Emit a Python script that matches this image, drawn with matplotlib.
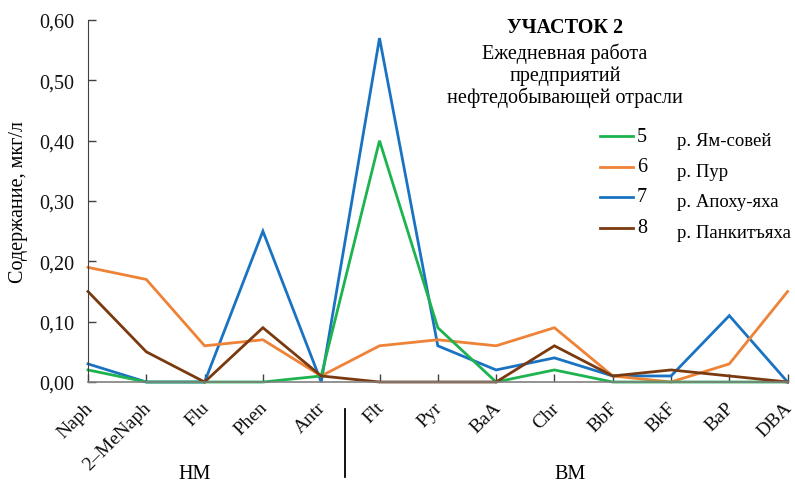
import numpy as np
import matplotlib
matplotlib.use("Agg")
import matplotlib.pyplot as plt
from matplotlib.lines import Line2D
from matplotlib.transforms import ScaledTranslation

plt.rcParams['font.family'] = ['Liberation Serif', 'DejaVu Serif']

# --- data ---
compounds = ['Naph', '2–MeNaph', 'Flu', 'Phen', 'Antr', 'Flt', 'Pyr',
             'BaA', 'Chr', 'BbF', 'BkF', 'BaP', 'DBA']
yam_sovey = [0.02, 0.00, 0.00, 0.00, 0.01, 0.40, 0.09, 0.00, 0.02, 0.00, 0.00, 0.00, 0.00]
pur = [0.19, 0.17, 0.06, 0.07, 0.01, 0.06, 0.07, 0.06, 0.09, 0.01, 0.00, 0.03, 0.15]
apokhu_yakha = [0.03, 0.00, 0.00, 0.25, 0.00, 0.57, 0.06, 0.02, 0.04, 0.01, 0.01, 0.11, 0.00]
pankityakha = [0.15, 0.05, 0.00, 0.09, 0.01, 0.00, 0.00, 0.00, 0.06, 0.01, 0.02, 0.01, 0.00]

series_nums = ['5', '6', '7', '8']
river_names = ['р. Ям-совей', 'р. Пур', 'р. Апоху-яха', 'р. Панкитъяха']
colors = ['#1db34f', '#ee8236', '#1a73c2', '#7a3a10']

yticks = [0.0, 0.1, 0.2, 0.3, 0.4, 0.5, 0.6]

FS = 14.5

fig = plt.figure(figsize=(7.95, 4.85), dpi=100)
ax = fig.add_axes([0.1107, 0.2103, 0.8800, 0.7464])

x = np.arange(len(compounds))
# draw in order so brown sits on top
for vals, c in zip([apokhu_yakha, pur, yam_sovey, pankityakha],
                   [colors[2], colors[1], colors[0], colors[3]]):
    ax.plot(x, vals, color=c, lw=2.0, solid_joinstyle='miter', clip_on=False)

ax.set_xlim(0, len(compounds) - 1)
ax.set_ylim(0, 0.6)
ax.set_yticks(yticks)
ax.set_yticklabels([f"{v:.2f}".replace('.', ',') for v in yticks], fontsize=FS)
ax.set_xticks(x)
ax.set_xticklabels(compounds, rotation=45, ha='right', va='top',
                   rotation_mode='anchor', fontsize=14)
ax.tick_params(axis='both', direction='in', length=6, width=1, colors='#404040',
               labelcolor='#111111')
ax.tick_params(axis='y', pad=10)
ax.tick_params(axis='x', pad=12)
shift = ScaledTranslation(-4 / 100, 0, fig.dpi_scale_trans)
for lbl in ax.get_xticklabels():
    lbl.set_transform(lbl.get_transform() + shift)

for s in ['top', 'right']:
    ax.spines[s].set_visible(False)
ax.spines['left'].set_color('#404040')
ax.spines['bottom'].set_color('#808080')
ax.spines['bottom'].set_linewidth(1.2)

ax.set_ylabel('Содержание, мкг/л', fontsize=FS, labelpad=8)

# group labels and separator
fig.text(195 / 795, 1 - 475 / 485, 'НМ', fontsize=FS, ha='center', va='center')
fig.text(570 / 795, 1 - 475 / 485, 'ВМ', fontsize=FS, ha='center', va='center')
fig.add_artist(Line2D([345 / 795, 345 / 795], [1 - 410 / 485, 1 - 478 / 485],
                      color='black', lw=1.3))

# title block
fig.text(565 / 795, 1 - 28 / 485, 'УЧАСТОК 2', fontsize=FS, fontweight='bold',
         ha='center', va='center')
fig.text(565 / 795, 1 - 76 / 485,
         'Ежедневная работа\nпредприятий\nнефтедобывающей отрасли',
         fontsize=FS, ha='center', va='center', linespacing=1.12)

# legend
for i, (num, name, c) in enumerate(zip(series_nums, river_names, colors)):
    yy = 1 - (137 + 30.5 * i) / 485
    fig.add_artist(Line2D([600 / 795, 633 / 795], [yy, yy], color=c, lw=2.0))
    fig.text(637 / 795, yy, num, fontsize=FS, ha='left', va='center')
    fig.text(677 / 795, yy - 5 / 485, name, fontsize=13.5, ha='left', va='center')

fig.savefig('out.png', dpi=100)
